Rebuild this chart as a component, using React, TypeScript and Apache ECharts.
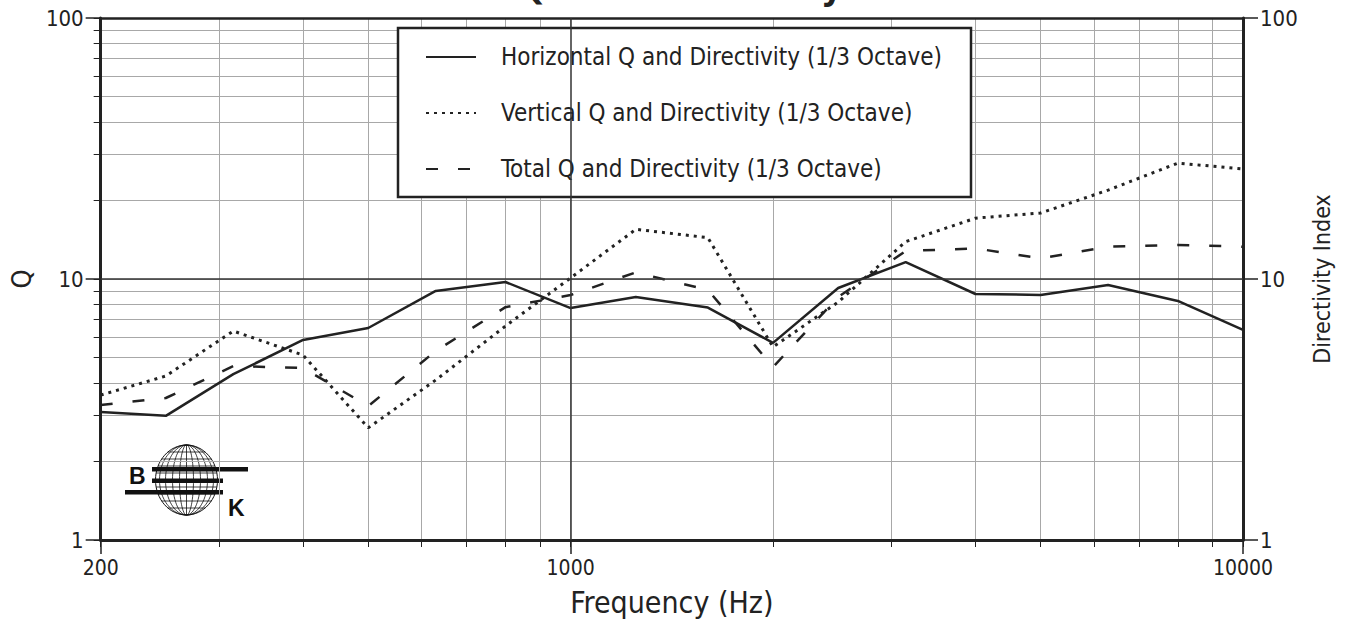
import React, { useEffect, useRef } from "react";
import * as echarts from "echarts";

const FREQS = [200, 250, 315, 400, 500, 630, 800, 1000, 1250, 1600, 2000, 2500, 3150, 4000, 5000, 6300, 8000, 10000];
const HORIZONTAL_Q = [3.09, 2.99, 4.32, 5.84, 6.49, 9.0, 9.74, 7.74, 8.53, 7.77, 5.69, 9.24, 11.6, 8.76, 8.69, 9.48, 8.24, 6.38];
const VERTICAL_Q = [3.59, 4.25, 6.32, 5.11, 2.69, 4.1, 6.6, 10.1, 15.5, 14.4, 5.49, 8.16, 13.9, 17.1, 17.9, 21.9, 27.8, 26.4];
const TOTAL_Q = [3.29, 3.5, 4.64, 4.56, 3.26, 5.3, 7.8, 8.68, 10.6, 9.08, 4.6, 8.53, 12.8, 13.1, 12.0, 13.3, 13.5, 13.3];

const X_MINOR = [200, 300, 400, 500, 600, 700, 800, 900, 1000, 2000, 3000, 4000, 5000, 6000, 7000, 8000, 9000, 10000];
const X_MAJOR = [200, 1000, 10000];
const Y_MINOR = [1, 2, 3, 4, 5, 6, 7, 8, 9, 10, 20, 30, 40, 50, 60, 70, 80, 90, 100];
const Y_MAJOR = [1, 10, 100];

const NAMES = [
  "Horizontal Q and Directivity (1/3 Octave)",
  "Vertical Q and Directivity (1/3 Octave)",
  "Total Q and Directivity (1/3 Octave)",
];
const TITLE = "Q and Directivity";

const FONT = "'DejaVu Sans Condensed', 'Liberation Sans Narrow', 'Open Sans', sans-serif";
const INK = "#222";

function pairs(vals: number[]) {
  return FREQS.map((f, i) => [f, vals[i]]);
}

function logo() {
  const cx = 186.5, cy = 480, rx = 31, ry = 35;
  const children: any[] = [];
  children.push({ type: "ellipse", shape: { cx, cy, rx, ry }, style: { fill: "#fff", stroke: "#111", lineWidth: 1 } });
  [7, 14, 21, 27].forEach((r) => {
    children.push({ type: "ellipse", shape: { cx, cy, rx: r, ry }, style: { fill: "none", stroke: "#111", lineWidth: 0.8 } });
  });
  children.push({ type: "line", shape: { x1: cx, y1: cy - ry, x2: cx, y2: cy + ry }, style: { stroke: "#111", lineWidth: 0.8 } });
  [-28, -21, -14, -7, 7, 14, 21, 28].forEach((dy) => {
    const hw = rx * Math.sqrt(1 - (dy / ry) * (dy / ry));
    children.push({ type: "line", shape: { x1: cx - hw, y1: cy + dy, x2: cx + hw, y2: cy + dy }, style: { stroke: "#111", lineWidth: 0.8 } });
  });
  children.push({ type: "rect", shape: { x: 152, y: 467, width: 96, height: 4.5 }, style: { fill: "#111" } });
  children.push({ type: "rect", shape: { x: 152, y: 478.5, width: 71, height: 4.5 }, style: { fill: "#111" } });
  children.push({ type: "rect", shape: { x: 125, y: 490, width: 98, height: 4.5 }, style: { fill: "#111" } });
  children.push({ type: "text", x: 129, y: 476, style: { text: "B", fontSize: 23, fontWeight: "bold", fontFamily: "'Liberation Sans', Arial, sans-serif", fill: "#111", verticalAlign: "middle" } });
  children.push({ type: "text", x: 228, y: 508, style: { text: "K", fontSize: 23, fontWeight: "bold", fontFamily: "'Liberation Sans', Arial, sans-serif", fill: "#111", verticalAlign: "middle" } });
  return { type: "group", z: 3, children };
}

export default function App() {
  const ref = useRef<HTMLDivElement>(null);
  useEffect(() => {
    document.body.style.margin = "0";
    const chart = echarts.init(ref.current!, null, { renderer: "svg" });
    const fmt = (v: number) => String(Math.round(v));
    const minorX = {
      type: "log", logBase: 10, min: 200, max: 10000, position: "bottom",
      axisLine: { show: false },
      axisTick: { show: true, customValues: X_MINOR, length: 7, lineStyle: { color: INK, width: 1 } },
      axisLabel: { show: false },
      splitLine: { show: true, lineStyle: { color: "#a8a8a8", width: 1 } },
    };
    const majorX = {
      type: "log", logBase: 10, min: 200, max: 10000, position: "bottom",
      axisLine: { show: true, onZero: false, lineStyle: { color: INK, width: 3 } },
      axisTick: { show: true, customValues: X_MAJOR, length: 14, lineStyle: { color: INK, width: 1.5 } },
      axisLabel: { show: true, customValues: X_MAJOR, formatter: fmt, fontSize: 21, color: INK, fontFamily: FONT, margin: 17 },
      splitLine: { show: false },
      name: "Frequency (Hz)", nameLocation: "middle", nameGap: 47,
      nameTextStyle: { fontSize: 30, color: INK, fontFamily: FONT },
    };
    const topX = {
      type: "log", logBase: 10, min: 200, max: 10000, position: "top",
      axisLine: { show: true, onZero: false, lineStyle: { color: INK, width: 2.5 } },
      axisTick: { show: false }, axisLabel: { show: false }, splitLine: { show: false },
    };
    const minorY = {
      type: "log", logBase: 10, min: 1, max: 100, position: "left",
      axisLine: { show: false },
      axisTick: { show: true, customValues: Y_MINOR, length: 7, lineStyle: { color: INK, width: 1 } },
      axisLabel: { show: false },
      splitLine: { show: true, lineStyle: { color: "#a8a8a8", width: 1 } },
    };
    const majorY = {
      type: "log", logBase: 10, min: 1, max: 100, position: "left",
      axisLine: { show: true, onZero: false, lineStyle: { color: INK, width: 3 } },
      axisTick: { show: true, customValues: Y_MAJOR, length: 15, lineStyle: { color: INK, width: 1.5 } },
      axisLabel: { show: true, customValues: Y_MAJOR, formatter: fmt, fontSize: 22, color: INK, fontFamily: FONT, margin: 17 },
      splitLine: { show: false },
      name: "Q", nameLocation: "middle", nameGap: 63,
      nameTextStyle: { fontSize: 27, color: INK, fontFamily: FONT },
    };
    const rightY = {
      type: "log", logBase: 10, min: 1, max: 100, position: "right",
      axisLine: { show: true, onZero: false, lineStyle: { color: INK, width: 3 } },
      axisTick: { show: true, customValues: Y_MAJOR, length: 15, lineStyle: { color: INK, width: 1.5 } },
      axisLabel: { show: true, customValues: Y_MAJOR, formatter: fmt, fontSize: 22, color: INK, fontFamily: FONT, margin: 17 },
      splitLine: { show: false },
      name: "Directivity Index", nameLocation: "middle", nameGap: 67,
      nameTextStyle: { fontSize: 23, color: INK, fontFamily: FONT },
    };
    chart.setOption({
      animation: false,
      backgroundColor: "#fff",
      grid: { left: 99, right: 104, top: 18, bottom: 87 },
      xAxis: [minorX, majorX, topX],
      yAxis: [minorY, majorY, rightY],
      legend: {
        orient: "vertical", left: 425, top: 45, padding: 0,
        itemWidth: 50, itemHeight: 14, itemGap: 32,
        itemStyle: { color: "rgba(0,0,0,0)", borderWidth: 0, opacity: 0 },
        textStyle: { fontSize: 24, lineHeight: 24, color: INK, fontFamily: FONT, padding: [0, 0, 0, 20] },
        data: NAMES,
        selectedMode: false,
      },
      graphic: [
        { type: "rect", z: 3, shape: { x: 398, y: 28, width: 573, height: 169 }, style: { fill: "#fff", stroke: INK, lineWidth: 2.5 } },
        { type: "text", x: 680, y: 5, style: { text: TITLE, fontSize: 38, fontWeight: "bold", fontFamily: FONT, fill: INK, align: "center", verticalAlign: "bottom" } },
        logo(),
      ],
      series: [
        {
          name: NAMES[0], type: "line", xAxisIndex: 0, yAxisIndex: 0, symbol: "none", data: pairs(HORIZONTAL_Q),
          lineStyle: { color: INK, width: 2.5, type: "solid" }, itemStyle: { color: INK },
          markLine: {
            silent: true, symbol: "none", label: { show: false },
            lineStyle: { color: "#333", width: 1.5, type: "solid" },
            data: [{ xAxis: 1000 }, { yAxis: 10 }],
          },
        },
        {
          name: NAMES[1], type: "line", xAxisIndex: 0, yAxisIndex: 0, symbol: "none", data: pairs(VERTICAL_Q),
          lineStyle: { color: INK, width: 3, type: [3, 5] }, itemStyle: { color: INK },
        },
        {
          name: NAMES[2], type: "line", xAxisIndex: 0, yAxisIndex: 0, symbol: "none", data: pairs(TOTAL_Q),
          lineStyle: { color: INK, width: 2.5, type: [12, 20] }, itemStyle: { color: INK },
        },
      ],
    });
    return () => chart.dispose();
  }, []);
  return <div ref={ref} style={{ width: 1347, height: 627 }} />;
}
